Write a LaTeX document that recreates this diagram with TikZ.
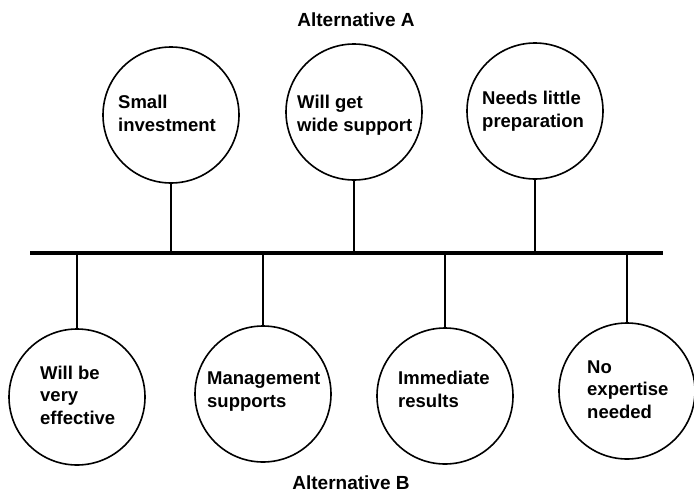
\documentclass[tikz,border=0pt]{standalone}
\usepackage{fontspec}
\setmainfont{Liberation Sans}
\begin{document}
\begin{tikzpicture}[x=1pt,y=-1pt,
  bubble/.style={draw,circle,line width=1.6pt,minimum size=136pt,inner sep=0pt},
  stem/.style={line width=1.4pt},
  bar/.style={line width=3.5pt},
  txt/.style={anchor=base west,align=left,inner sep=0pt,font=\fontsize{18.5}{22.2}\selectfont\bfseries},
  ttl/.style={anchor=base,inner sep=0pt,font=\fontsize{19}{22}\selectfont\bfseries}]
\useasboundingbox (0,0) rectangle (694,496);
% top circles
\node[bubble] (c1) at (171,115) {};
\node[bubble] (c2) at (354,112) {};
\node[bubble] (c3) at (535,111) {};
% bottom circles
\node[bubble] (c4) at (77,397) {};
\node[bubble] (c5) at (263,394) {};
\node[bubble] (c6) at (445,396) {};
\node[bubble] (c7) at (627,391) {};
% bar
\coordinate (barL) at (30,253);
\coordinate (barR) at (663,253);
\draw[bar] (barL) -- (barR);
% stems
\foreach \c in {c1,c2,c3}{\draw[stem] (\c.south) -- (\c.south |- barL);}
\foreach \c in {c4,c5,c6,c7}{\draw[stem] (\c.north) -- (\c.north |- barL);}
% texts (anchor = baseline of last line)
\node[txt] (t1) at (118,131) {Small\\investment};
\node[txt] (t2) at (297,131) {Will get\\wide support};
\node[txt] (t3) at (482,127) {Needs little\\preparation};
\node[txt] (t4) at (40,424) {Will be\\very\\effective};
\node[txt] (t5) at (207,407) {Management\\supports};
\node[txt] (t6) at (398,407) {Immediate\\results};
\node[txt] (t7) at (587,418) {No\\expertise\\needed};
% titles
\node[ttl] (ta) at (356,26) {Alternative A};
\node[ttl] (tb) at (351,489) {Alternative B};
\end{tikzpicture}
\end{document}
